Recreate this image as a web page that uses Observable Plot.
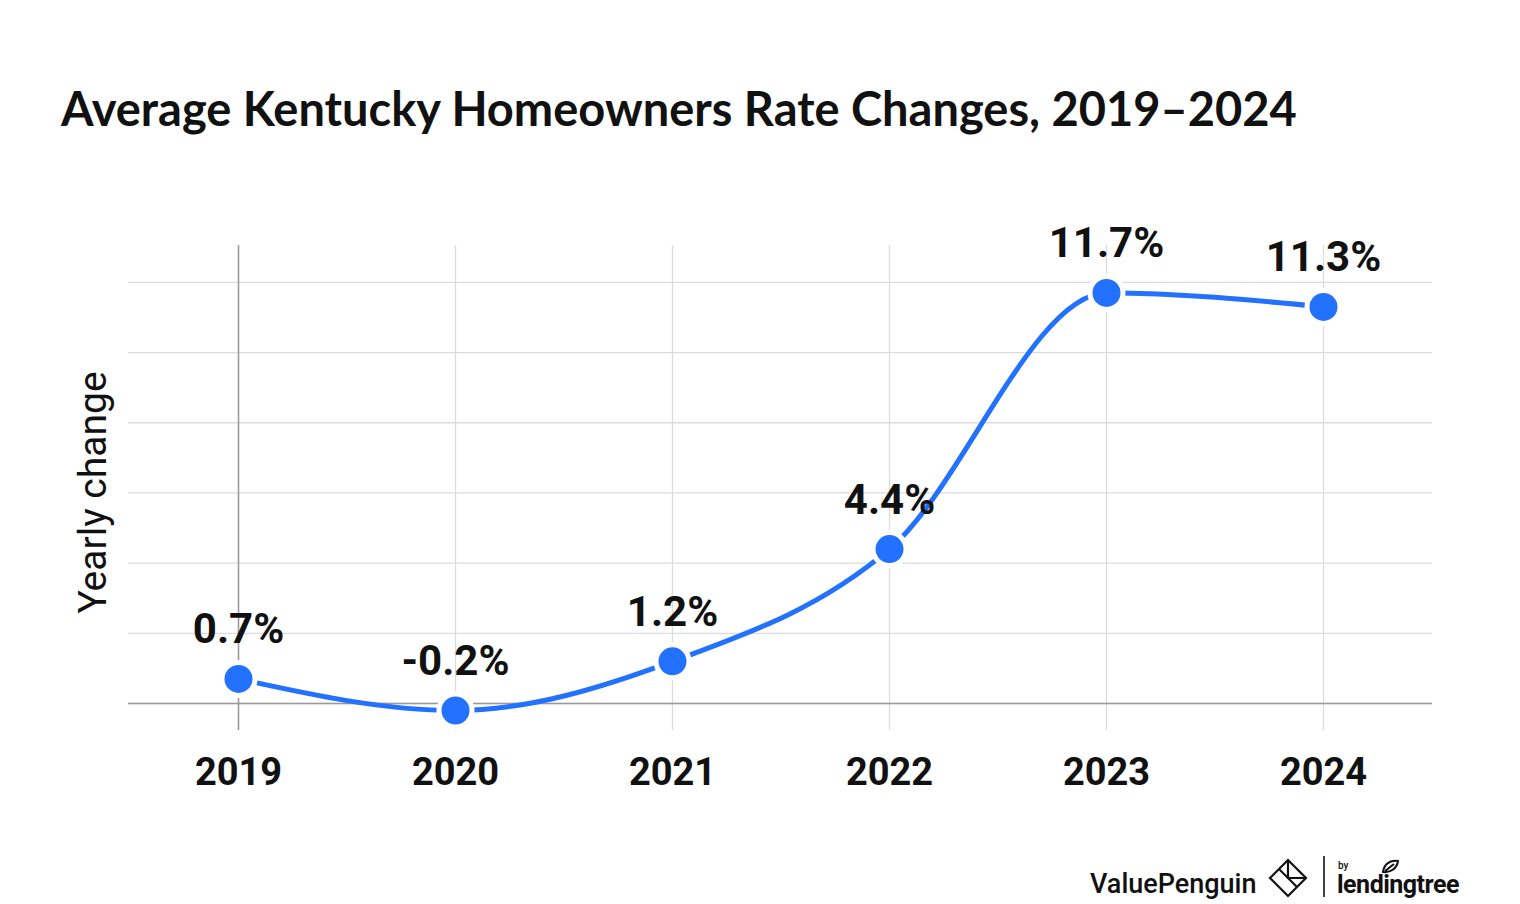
<!DOCTYPE html>
<html>
<head>
<meta charset="utf-8">
<script src="https://cdn.jsdelivr.net/npm/d3@7"></script>
<script src="https://cdn.jsdelivr.net/npm/@observablehq/plot@0.6"></script>
<style>
  html, body { margin: 0; padding: 0; background: #fff; }
  #page { position: relative; width: 1520px; height: 904px; overflow: hidden; background: #fff; }
  #title { position: absolute; left: 61px; top: 85px; font-family: Lato, sans-serif; font-weight: 700; font-size: 47px; line-height: 1; color: #111; white-space: nowrap; }
  #chart { position: absolute; left: 0; top: 160px; }
  #logo { position: absolute; left: 1080px; top: 845px; }
</style>
</head>
<body>
<div id="page">
  <div id="title">Average Kentucky Homeowners Rate Changes, 2019–2024</div>
  <div id="chart"></div>
  <svg id="logo" width="440" height="59" viewBox="0 0 440 59">
    <text x="10" y="48" font-family="Roboto, sans-serif" font-size="27" font-weight="500" fill="#111">ValuePenguin</text>
    <g fill="none" stroke="#111" stroke-width="2.2" stroke-linejoin="miter">
      <path d="M190 33 L208 15 L226 33 L208 51 Z"/>
      <path d="M208 15 L208 33 L226 33"/>
      <path d="M199 24 L217 42"/>
    </g>
    <line x1="244" y1="11" x2="244" y2="52" stroke="#111" stroke-width="1.6"/>
    <text x="258" y="24" font-family="Roboto, sans-serif" font-size="10" font-weight="500" fill="#111">by</text>
    <text x="257" y="48" font-family="Roboto, sans-serif" font-size="25" font-weight="700" fill="#111" letter-spacing="-0.5">lendingtree</text>
    <path d="M303 27 C304 19 310 15 318 16 C317 23 311 28 303 27 Z M305 26 L314 19" fill="none" stroke="#111" stroke-width="2"/>
  </svg>
</div>
<script>
const years = ["2019", "2020", "2021", "2022", "2023", "2024"];
const changes = [0.7, -0.2, 1.2, 4.4, 11.7, 11.3];
const labels = ["0.7%", "-0.2%", "1.2%", "4.4%", "11.7%", "11.3%"];
const yGrid = [0, 2, 4, 6, 8, 10, 12];

const data = years.map((year, i) => ({year, change: changes[i], label: labels[i]}));
const blue = "#2271ff";

const chart = Plot.plot({
  width: 1520,
  height: 690,
  marginLeft: 128,
  marginRight: 88,
  marginTop: 85,
  marginBottom: 120,
  style: {fontFamily: "Roboto, sans-serif", background: "#fff"},
  x: {type: "point", domain: years, padding: 0.5},
  y: {domain: [-0.77, 13.05], axis: null},
  marks: [
    Plot.ruleX(years, {stroke: "#dcdcdc", strokeWidth: 1.3}),
    Plot.ruleY(yGrid, {stroke: "#dcdcdc", strokeWidth: 1.3}),
    Plot.ruleX([years[0]], {stroke: "#9a9a9a", strokeWidth: 1.5}),
    Plot.ruleY([0], {stroke: "#9a9a9a", strokeWidth: 1.5}),
    Plot.axisX({tickSize: 0, tickPadding: 28, fontSize: 38, fontWeight: 700, fill: "#111", label: null}),
    Plot.text(["Yearly change"], {frameAnchor: "left", textAnchor: "middle", rotate: -90, dx: -34.5, dy: 4.5, fontSize: 39, fill: "#111"}),
    Plot.line(data, {x: "year", y: "change", curve: "monotone-x", stroke: blue, strokeWidth: 5}),
    Plot.dot(data, {x: "year", y: "change", r: 16.5, fill: blue, stroke: "#fff", strokeWidth: 5}),
    Plot.text(data, {x: "year", y: "change", text: "label", dy: -49, fontSize: 42, fontWeight: 700, fill: "#111"})
  ]
});
document.getElementById("chart").appendChild(chart);
</script>
</body>
</html>
